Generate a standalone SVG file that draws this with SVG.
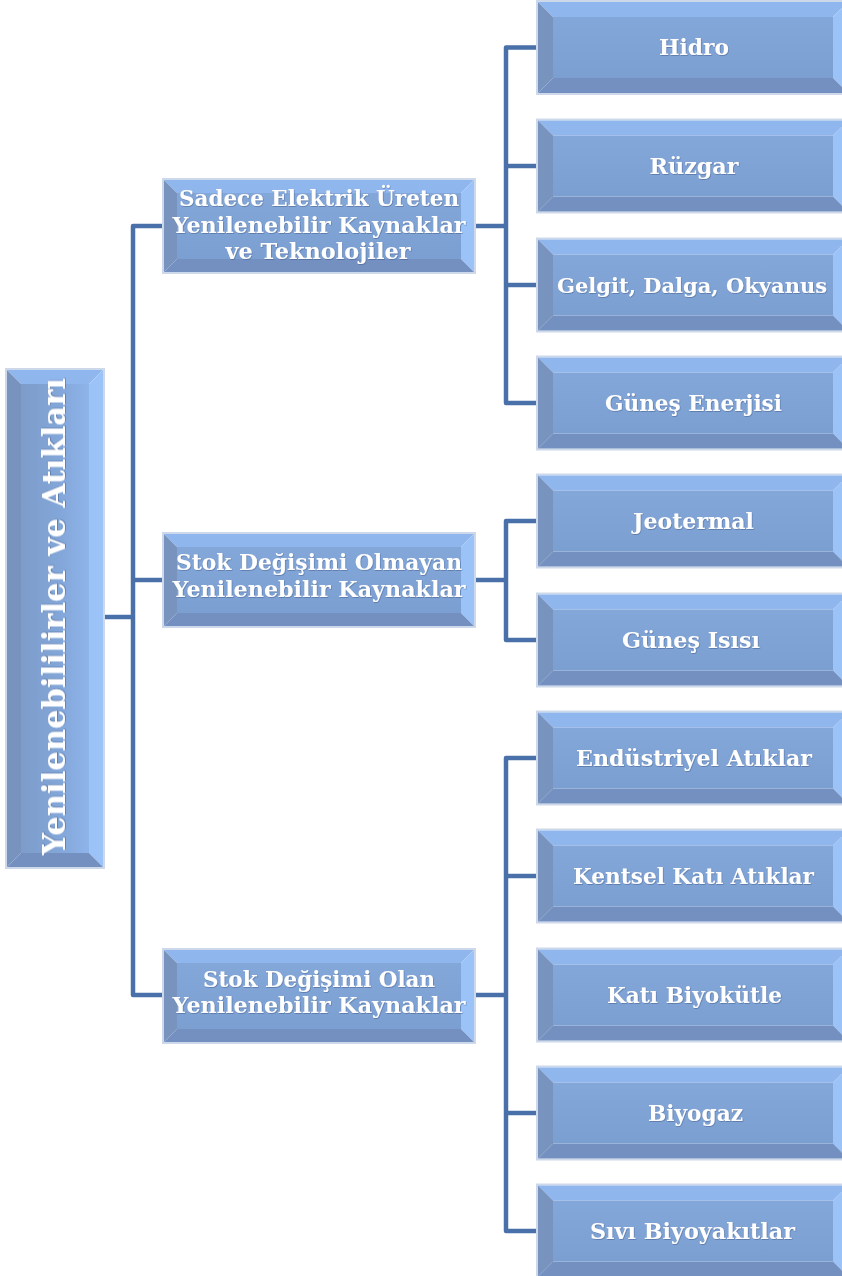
<svg xmlns="http://www.w3.org/2000/svg" xmlns:xlink="http://www.w3.org/1999/xlink" width="842" height="1276" viewBox="0 0 842 1276">
<defs>
<style>
.lbl{font-family:"DejaVu Serif","Liberation Serif",serif;font-weight:bold;fill:#ffffff;text-anchor:middle;filter:url(#ts)}
.leaf{font-size:23px}
.mid{font-size:23px}
.root{font-size:32px}
.conn{fill:none;stroke:#4a70a9;stroke-width:4.5;stroke-linejoin:round;stroke-linecap:butt}
.glow{fill:none;stroke:#cdd9ea;stroke-width:2}
.top{fill:#90b6ee}
.lft{fill:#7893be}
.rgt{fill:#9cc3f8}
.bot{fill:#7490c0}
</style>
<filter id="ts" x="-2%" y="-20%" width="104%" height="140%">
<feDropShadow dx="0.6" dy="0.8" stdDeviation="0.6" flood-color="#2d4a78" flood-opacity="0.5"/>
</filter>
<linearGradient id="face" x1="0" y1="0" x2="0" y2="1">
<stop offset="0" stop-color="#84a7da"/>
<stop offset="1" stop-color="#7c9fd2"/>
</linearGradient>
<linearGradient id="rootface" x1="0" y1="0" x2="1" y2="0">
<stop offset="0" stop-color="#7d9cc9"/>
<stop offset="0.6" stop-color="#83a7da"/>
<stop offset="1" stop-color="#8fb4ea"/>
</linearGradient>
<g id="leafbox">
<rect class="glow" x="-1" y="-1" width="312" height="93"/>
<polygon class="top" points="0,0 310,0 295,15 15,15"/>
<polygon class="lft" points="0,0 15,15 15,76 0,91"/>
<polygon class="rgt" points="310,0 310,91 295,76 295,15"/>
<polygon class="bot" points="0,91 15,76 295,76 310,91"/>
<rect x="15" y="15" width="280" height="61" fill="url(#face)"/>
</g>
<g id="midbox">
<rect class="glow" x="-1" y="-1" width="312" height="94"/>
<polygon class="top" points="0,0 310,0 297,13 13,13"/>
<polygon class="lft" points="0,0 13,13 13,79 0,92"/>
<polygon class="rgt" points="310,0 310,92 297,79 297,13"/>
<polygon class="bot" points="0,92 13,79 297,79 310,92"/>
<rect x="13" y="13" width="284" height="66" fill="url(#face)"/>
</g>
</defs>
<rect width="842" height="1276" fill="#ffffff"/>

<g id="connectors">
<path class="conn" d="M103,617 H133"/>
<path class="conn" d="M164,226 H133 V995 H164"/>
<path class="conn" d="M133,580 H164"/>
<path class="conn" d="M474,226 H506"/>
<path class="conn" d="M538,47.5 H506 V403 H538"/>
<path class="conn" d="M506,166 H538"/>
<path class="conn" d="M506,285 H538"/>
<path class="conn" d="M474,580 H506"/>
<path class="conn" d="M538,521 H506 V640 H538"/>
<path class="conn" d="M474,995 H506"/>
<path class="conn" d="M538,758 H506 V1231 H538"/>
<path class="conn" d="M506,876 H538"/>
<path class="conn" d="M506,1113 H538"/>
</g>

<g id="root">
<rect class="glow" x="6" y="369" width="98" height="499"/>
<polygon class="top" points="7,370 103,370 89,384 21,384"/>
<polygon class="lft" points="7,370 21,384 21,853 7,867"/>
<polygon class="rgt" points="103,370 103,867 89,853 89,384"/>
<polygon class="bot" points="7,867 21,853 89,853 103,867"/>
<rect x="21" y="384" width="68" height="469" fill="url(#rootface)"/>
<text class="lbl root" transform="translate(65,616.5) rotate(-90)" x="0" y="0" textLength="477" lengthAdjust="spacingAndGlyphs">Yenilenebililirler  ve Atıkları</text>
</g>

<g id="mid1">
<use xlink:href="#midbox" x="164" y="180"/>
<text class="lbl mid" x="319" y="206" textLength="280" lengthAdjust="spacingAndGlyphs">Sadece Elektrik Üreten</text>
<text class="lbl mid" x="319" y="233" textLength="293" lengthAdjust="spacingAndGlyphs">Yenilenebilir Kaynaklar</text>
<text class="lbl mid" x="318" y="259" textLength="185" lengthAdjust="spacingAndGlyphs">ve Teknolojiler</text>
</g>

<g id="mid2">
<use xlink:href="#midbox" x="164" y="534"/>
<text class="lbl mid" x="319" y="570" textLength="286" lengthAdjust="spacingAndGlyphs">Stok Değişimi Olmayan</text>
<text class="lbl mid" x="319" y="597" textLength="293" lengthAdjust="spacingAndGlyphs">Yenilenebilir Kaynaklar</text>
</g>

<g id="mid3">
<use xlink:href="#midbox" x="164" y="950"/>
<text class="lbl mid" x="319" y="987" textLength="232" lengthAdjust="spacingAndGlyphs">Stok Değişimi Olan</text>
<text class="lbl mid" x="319" y="1013" textLength="293" lengthAdjust="spacingAndGlyphs">Yenilenebilir Kaynaklar</text>
</g>

<g id="leaf-hidro"><use xlink:href="#leafbox" x="538" y="2"/><text class="lbl leaf" x="694" y="55" textLength="70" lengthAdjust="spacingAndGlyphs">Hidro</text></g>
<g id="leaf-ruzgar"><use xlink:href="#leafbox" x="538" y="120.5"/><text class="lbl leaf" x="694" y="174" textLength="89" lengthAdjust="spacingAndGlyphs">Rüzgar</text></g>
<g id="leaf-gelgit"><use xlink:href="#leafbox" x="538" y="239.5"/><text class="lbl leaf" x="692" y="292.5" style="font-size:21px" textLength="270" lengthAdjust="spacingAndGlyphs">Gelgit, Dalga, Okyanus</text></g>
<g id="leaf-gunes-enerjisi"><use xlink:href="#leafbox" x="538" y="357.5"/><text class="lbl leaf" x="693.5" y="411" textLength="177" lengthAdjust="spacingAndGlyphs">Güneş Enerjisi</text></g>
<g id="leaf-jeotermal"><use xlink:href="#leafbox" x="538" y="475.5"/><text class="lbl leaf" x="693.5" y="529" textLength="121" lengthAdjust="spacingAndGlyphs">Jeotermal</text></g>
<g id="leaf-gunes-isisi"><use xlink:href="#leafbox" x="538" y="594.5"/><text class="lbl leaf" x="691" y="648" textLength="138" lengthAdjust="spacingAndGlyphs">Güneş Isısı</text></g>
<g id="leaf-endustriyel"><use xlink:href="#leafbox" x="538" y="712.5"/><text class="lbl leaf" x="694" y="766" textLength="236" lengthAdjust="spacingAndGlyphs">Endüstriyel Atıklar</text></g>
<g id="leaf-kentsel"><use xlink:href="#leafbox" x="538" y="830.5"/><text class="lbl leaf" x="693.5" y="884" textLength="241" lengthAdjust="spacingAndGlyphs">Kentsel Katı Atıklar</text></g>
<g id="leaf-kati-biyokutle"><use xlink:href="#leafbox" x="538" y="949.5"/><text class="lbl leaf" x="694.5" y="1003" textLength="175" lengthAdjust="spacingAndGlyphs">Katı Biyokütle</text></g>
<g id="leaf-biyogaz"><use xlink:href="#leafbox" x="538" y="1067.5"/><text class="lbl leaf" x="695.5" y="1121" textLength="95" lengthAdjust="spacingAndGlyphs">Biyogaz</text></g>
<g id="leaf-sivi"><use xlink:href="#leafbox" x="538" y="1185.5"/><text class="lbl leaf" x="692.5" y="1239" textLength="205" lengthAdjust="spacingAndGlyphs">Sıvı Biyoyakıtlar</text></g>
</svg>
